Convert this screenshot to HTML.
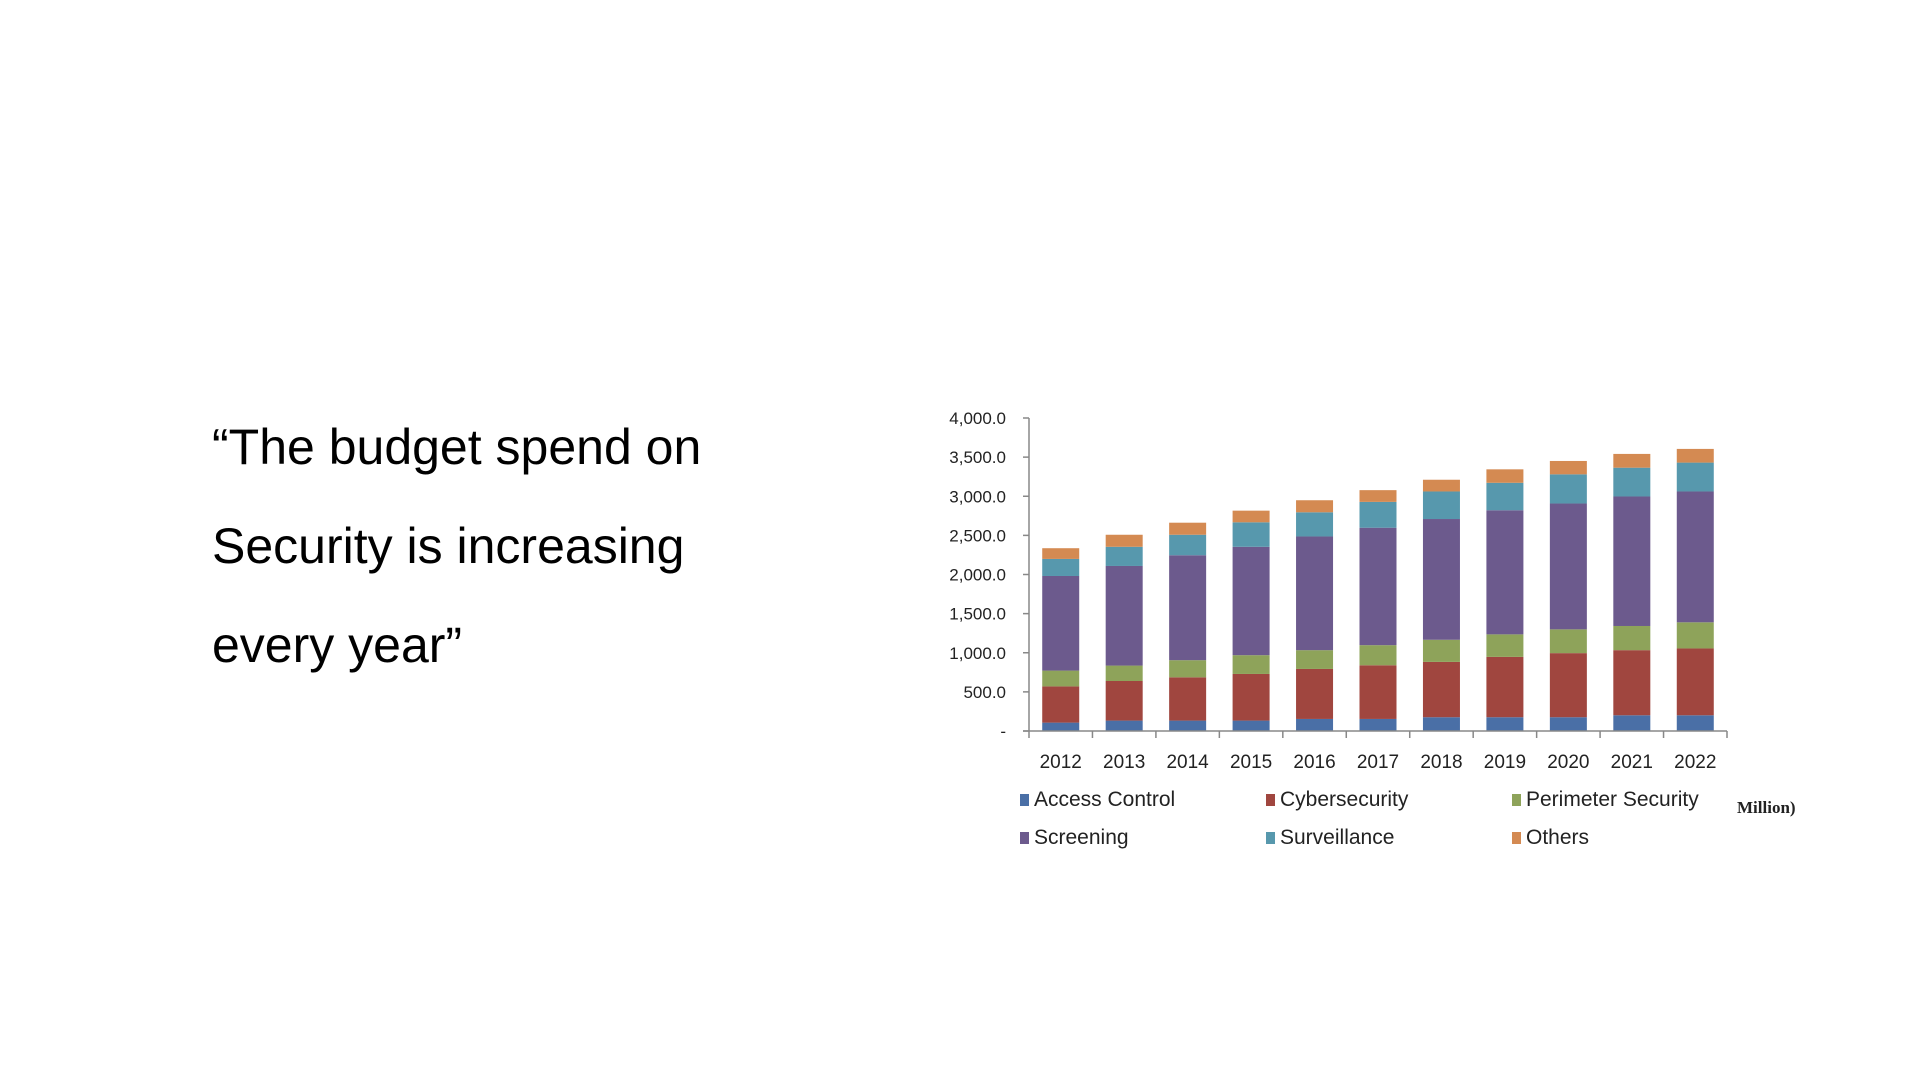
<!DOCTYPE html>
<html><head><meta charset="utf-8"><style>
html,body{margin:0;padding:0;background:#fff;width:1920px;height:1080px;overflow:hidden}
.quote{position:absolute;left:212px;top:398px;font-family:"Liberation Sans",sans-serif;font-size:50px;line-height:99px;color:#000;margin:0}
svg{position:absolute;left:0;top:0}
</style></head><body>
<p class="quote">“The budget spend on<br>Security is increasing<br>every year”</p>
<svg id="chart" width="1920" height="1080"></svg>
<script>
const categories=["2012","2013","2014","2015","2016","2017","2018","2019","2020","2021","2022"];
const accessControl=[107,133,133,133,154,154,176,176,176,201,201];
const cybersecurity=[463,506,553,596,639,686,707,771,819,832,854];
const perimeterSecurity=[202,197,219,240,240,257,283,288,304,309,334];
const screening=[1209,1273,1341,1385,1453,1501,1543,1586,1608,1655,1672];
const surveillance=[218,245,262,313,309,330,352,351,373,368,369];
const others=[137,154,154,149,154,150,150,172,171,176,175];
const tickValues=[0,500,1000,1500,2000,2500,3000,3500,4000];
const tickLabels=["-","500.0","1,000.0","1,500.0","2,000.0","2,500.0","3,000.0","3,500.0","4,000.0"];
const seriesNames=["Access Control","Cybersecurity","Perimeter Security","Screening","Surveillance","Others"];

const NS="http://www.w3.org/2000/svg";
const svg=document.getElementById('chart');
const x0=1029,x1=1727,yTop=418,yBot=731,yMax=4000;
const step=(x1-x0)/categories.length;
const yScale=v=>yBot-(v/yMax)*(yBot-yTop);
const xCenter=i=>x0+step*(i+0.5);
const barW=37;
const series=[accessControl,cybersecurity,perimeterSecurity,screening,surveillance,others];
const colors=["#4a6fa6","#a0463f","#8ea35a","#6c5a8d","#5798ad","#d48a52"];
function mk(tag,attrs){const e=document.createElementNS(NS,tag);for(const k in attrs)e.setAttribute(k,attrs[k]);svg.appendChild(e);return e;}
const font='"Liberation Sans",sans-serif';
// bars
categories.forEach((c,i)=>{
  let acc=0;
  series.forEach((s,j)=>{
    const yT=yScale(acc+s[i]),yB=yScale(acc);
    const r=mk('rect',{x:xCenter(i)-barW/2,y:yT,width:barW,height:yB-yT,fill:colors[j]});
    
    
    acc+=s[i];
  });
});
// axes
const ya=mk('line',{x1:x0,y1:yTop,x2:x0,y2:yBot,stroke:'#888','stroke-width':1.5});


const xa=mk('line',{x1:x0-6,y1:yBot,x2:x1,y2:yBot,stroke:'#888','stroke-width':1.5});


tickValues.forEach((v,i)=>{
  const y=yScale(v);
  mk('line',{x1:x0-6,y1:y,x2:x0,y2:y,stroke:'#888','stroke-width':1.5});
  const t=mk('text',{x:1006,y:y+6,'text-anchor':'end','font-family':font,'font-size':17,fill:'#222'});
  t.textContent=tickLabels[i];
  
  
});
for(let i=0;i<=categories.length;i++){
  const x=x0+step*i;
  mk('line',{x1:x,y1:yBot,x2:x,y2:yBot+7,stroke:'#888','stroke-width':1.5});
}
categories.forEach((c,i)=>{
  const t=mk('text',{x:xCenter(i),y:768,'text-anchor':'middle','font-family':font,'font-size':19,fill:'#222'});
  t.textContent=c;
  
  
});
// legend
const lx=[1020,1266,1512],ly=[806,844];
seriesNames.forEach((n,j)=>{
  const col=j%3,row=Math.floor(j/3);
  const r=mk('rect',{x:lx[col],y:ly[row]-12,width:9,height:12,fill:colors[j]});
  
  
  const t=mk('text',{x:lx[col]+14,y:ly[row],'font-family':font,'font-size':21,fill:'#222'});
  t.textContent=n;
  
  
});
const m=mk('text',{x:1737,y:813,'font-family':'"Liberation Serif",serif','font-size':17,'font-weight':'bold',fill:'#222'});
m.textContent='Million)';


</script>
</body></html>
